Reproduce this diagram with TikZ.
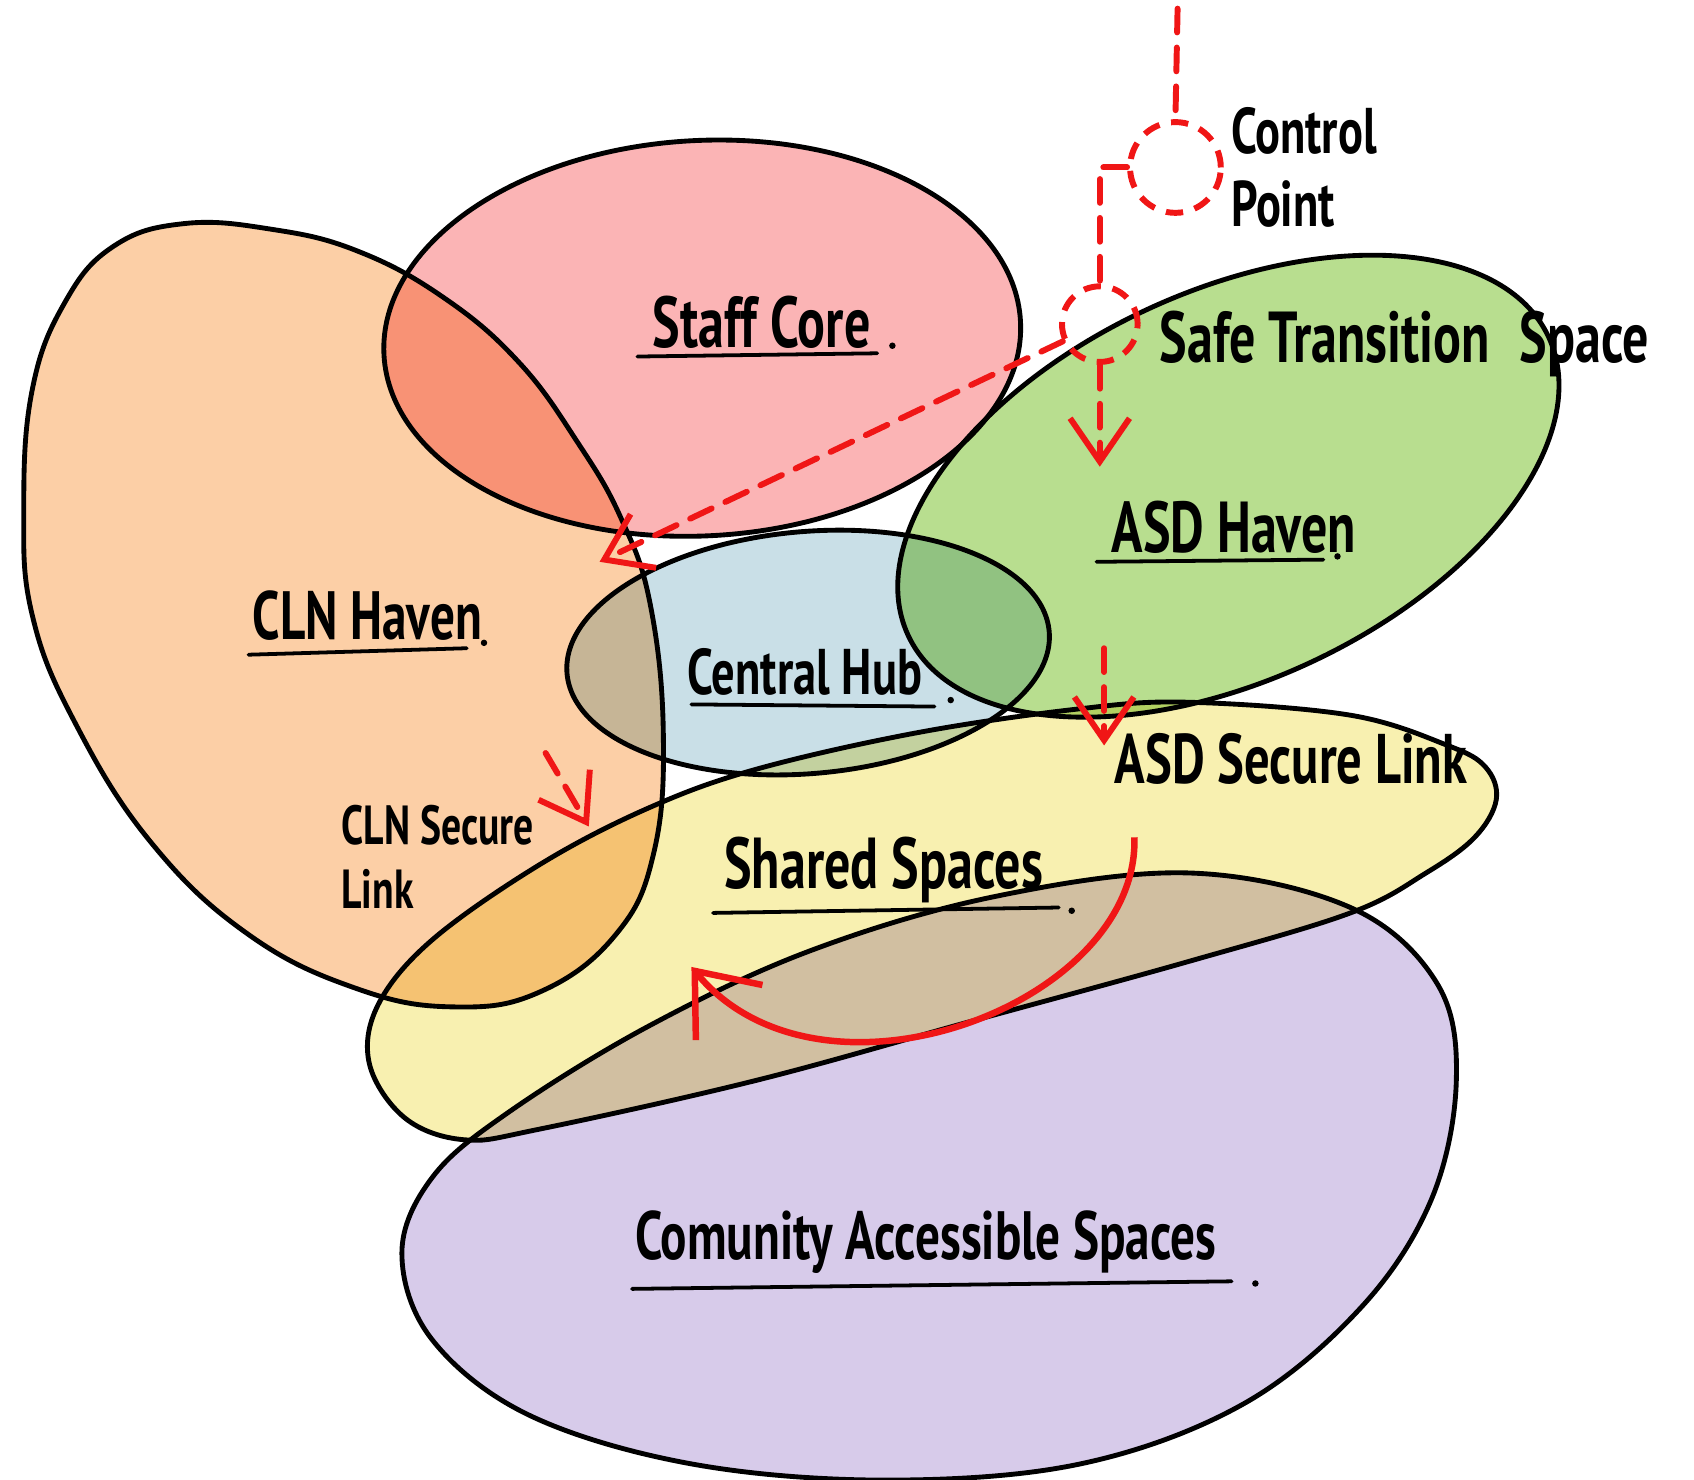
\documentclass[tikz,border=0pt]{standalone}
\usepackage{fontspec}
\setmainfont{PT Sans}[FakeStretch=0.72]
\usetikzlibrary{arrows.meta}

\definecolor{clnc}{RGB}{252,207,166}
\definecolor{stfc}{RGB}{251,180,181}
\definecolor{asdc}{RGB}{184,222,143}
\definecolor{hubc}{RGB}{201,223,231}
\definecolor{shrc}{RGB}{248,240,176}
\definecolor{comc}{RGB}{215,203,234}
\definecolor{pathred}{RGB}{240,22,22}

\begin{document}
\begin{tikzpicture}[x=0.1mm,y=-0.1mm,
        zone/.style={draw=black,line width=0.45mm,blend mode=multiply},
        ul/.style={line width=0.35mm,line cap=round},
        lbl/.style={font=\bfseries\fontsize{19}{21}\selectfont,inner sep=0},
        dsh/.style={draw=pathred,line width=0.55mm,line cap=round,dash pattern=on 2.2mm off 1.4mm},
        flow/.style={dsh,-{Straight Barb[length=4mm,width=5.5mm]}},
        back/.style={draw=pathred,line width=0.6mm,-{Straight Barb[length=5mm,width=8mm]}},
        cpt/.style={circle,draw=pathred,line width=0.55mm,dash pattern=on 1.6mm off 1.1mm,inner sep=0}]
        \useasboundingbox (0,0) rectangle (1568,1369);

        \path[zone,fill=clnc] plot[smooth cycle,tension=0.7] coordinates {(22,470) (30,360) (60,280) (105,228) (170,207) (250,212) (330,232) (410,275) (480,335) (535,410) (575,480) (602,560) (614,680) (605,790) (570,865) (500,918) (420,932) (330,915) (230,865) (140,780) (70,670) (30,570)};
        \path[zone,fill=stfc,rotate around={3:(650,313)}] (650,313) ellipse [x radius=295,y radius=183];
        \path[zone,fill=asdc,rotate around={25:(1137,450)}] (1137,450) ellipse [x radius=327,y radius=180];
        \path[zone,fill=hubc,rotate around={5:(748,604)}] (748,604) ellipse [x radius=224,y radius=112];
        \path[zone,fill=comc] plot[smooth cycle,tension=0.6] coordinates {(1100,808) (1250,840) (1330,910) (1348,1000) (1325,1110) (1260,1210) (1150,1300) (1000,1355) (820,1370) (640,1355) (490,1310) (400,1240) (372,1160) (400,1090) (470,1030) (600,950) (750,880) (920,830)};
        \path[zone,fill=shrc] plot[smooth cycle,tension=0.6] coordinates {(1340,690) (1375,710) (1385,740) (1365,775) (1320,808) (1250,845) (1100,890) (900,945) (700,1000) (500,1045) (430,1055) (375,1035) (342,985) (350,930) (400,870) (500,800) (600,748) (700,712) (850,678) (1000,656) (1100,650) (1250,662)};

        \node[lbl] (staff) at (705,298) {Staff Core};
        \node[lbl] (safe) at (1300,318) {Safe Transition\hspace{8pt}Space};
        \node[lbl] (asd) at (1142,488) {ASD Haven};
        \node[lbl,font=\bfseries\fontsize{18}{20}\selectfont] (cln) at (340,570) {CLN Haven};
        \node[lbl,font=\bfseries\fontsize{17}{19}\selectfont] (hub) at (745,622) {Central Hub};
        \node[lbl] (shared) at (818,805) {Shared Spaces};
        \node[lbl,font=\bfseries\fontsize{18}{20}\selectfont] (comm) at (857,1150) {Comunity Accessible Spaces};
        \node[lbl,font=\bfseries\fontsize{18.5}{20}\selectfont] (asdlink) at (1195,702) {ASD Secure Link};
        \node[lbl,font=\bfseries\fontsize{14.5}{17}\selectfont,align=left] (clnlink) at (405,793) {CLN Secure\\Link};
        \node[lbl,font=\bfseries\fontsize{17}{19}\selectfont,align=left] (ctrl) at (1207,155) {Control\\Point};

        \draw[ul] (590,330) -- (812,327);
        \draw[ul] (1015,520) -- (1225,518);
        \draw[ul] (230,606) -- (432,600);
        \draw[ul] (640,652) -- (865,654);
        \draw[ul] (660,845) -- (980,840);
        \draw[ul] (585,1193) -- (1140,1186);
        \fill (826,320) circle (3);
        \fill (1238,515) circle (3);
        \fill (448,595) circle (3);
        \fill (880,648) circle (3);
        \fill (992,843) circle (3);
        \fill (1162,1188) circle (3);

        \node[cpt,minimum size=8.4mm] (cp) at (1088,155) {};
        \node[cpt,minimum size=7mm] (gate) at (1018,300) {};
        \coordinate (feed) at (1090,8);
        \coordinate (asdin) at (1018,432);
        \coordinate (clnin) at (555,520);
        \coordinate (asdout) at (1022,600);
        \coordinate (asdend) at (1022,690);
        \coordinate (clnout) at (505,697);
        \coordinate (clnend) at (545,765);
        \coordinate (sh1) at (1050,775);
        \coordinate (sh2) at (640,895);

        \draw[dsh] (feed) -- (cp.north);
        \draw[dsh] (cp.west) -| (gate.north);
        \draw[flow] (gate.south) -- (asdin);
        \draw[flow] (gate.205) -- (clnin);
        \draw[flow] (asdout) -- (asdend);
        \draw[flow] (clnout) -- (clnend);
        \draw[back] (sh1) .. controls (1055,930) and (760,1040) .. (sh2);
    \end{tikzpicture}
\end{document}
